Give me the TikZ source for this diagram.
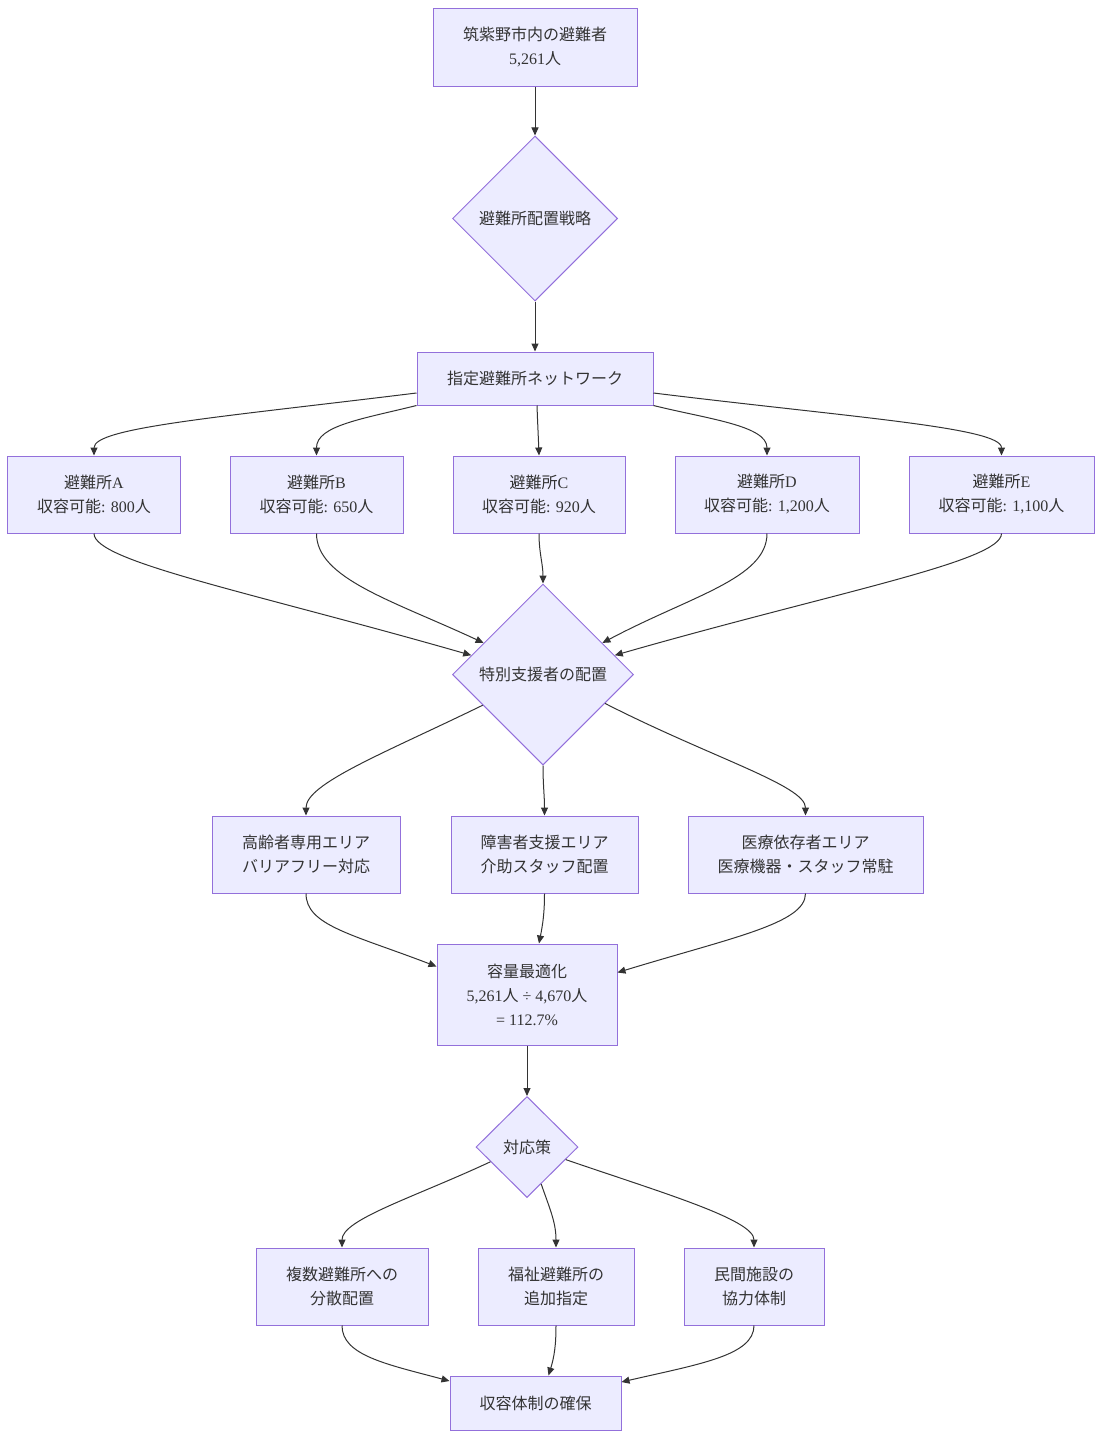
\documentclass[tikz,border=0pt]{standalone}
\usepackage{fontspec}
\setmainfont{Liberation Serif}
\newfontfamily\cjk{Noto Sans CJK JP}
\usetikzlibrary{shapes.geometric,arrows.meta}
\newcommand\J[1]{{\cjk #1}}
\definecolor{mmfill}{HTML}{ECECFF}
\definecolor{mmstroke}{HTML}{9370DB}
\definecolor{mmedge}{HTML}{333333}
\definecolor{mmtext}{HTML}{333333}
\begin{document}
\begin{tikzpicture}[x=1pt,y=1pt,
  box/.style={draw=mmstroke, fill=mmfill, line width=1pt, inner sep=0pt, align=center,
    text=mmtext, font=\fontsize{16}{24}\selectfont},
  dia/.style={box, diamond, aspect=1},
  edge/.style={draw=mmedge, line width=1pt, -{Triangle[length=8pt,width=7pt]}}]
\useasboundingbox (0,0) rectangle (1102,-1438);
% nodes
\node[box,minimum width=204,minimum height=78] (n1) at (535,-47) {\J{筑紫野市内の避難者}\\5,261\J{人}};
\node[dia,minimum width=165,minimum height=165] (d1) at (535,-218.5) {\J{避難所配置戦略}};
\node[box,minimum width=236,minimum height=53] (net) at (535,-378.5) {\J{指定避難所ネットワーク}};
\node[box,minimum width=173,minimum height=77] (sA) at (94,-494.5) {\J{避難所}A\\\J{収容可能}: 800\J{人}};
\node[box,minimum width=173,minimum height=77] (sB) at (316.5,-494.5) {\J{避難所}B\\\J{収容可能}: 650\J{人}};
\node[box,minimum width=172,minimum height=77] (sC) at (539,-494.5) {\J{避難所}C\\\J{収容可能}: 920\J{人}};
\node[box,minimum width=184,minimum height=77] (sD) at (767,-494.5) {\J{避難所}D\\\J{収容可能}: 1,200\J{人}};
\node[box,minimum width=185,minimum height=77] (sE) at (1001.5,-494.5) {\J{避難所}E\\\J{収容可能}: 1,100\J{人}};
\node[dia,minimum width=181,minimum height=181] (d2) at (543,-674.5) {\J{特別支援者の配置}};
\node[box,minimum width=188,minimum height=77] (r1) at (306,-854.5) {\J{高齢者専用エリア}\\\J{バリアフリー対応}};
\node[box,minimum width=187,minimum height=77] (r2) at (544.5,-854.5) {\J{障害者支援エリア}\\\J{介助スタッフ配置}};
\node[box,minimum width=235,minimum height=77] (r3) at (805.5,-854.5) {\J{医療依存者エリア}\\\J{医療機器・スタッフ常駐}};
\node[box,minimum width=180,minimum height=101] (cap) at (527,-994.5) {\J{容量最適化}\\5,261\J{人} ÷ 4,670\J{人}\\= 112.7\%};
\node[dia,minimum width=102,minimum height=101] (d3) at (527,-1147) {\J{対応策}};
\node[box,minimum width=172,minimum height=77] (q1) at (342,-1286.5) {\J{複数避難所への}\\\J{分散配置}};
\node[box,minimum width=156,minimum height=77] (q2) at (556,-1286.5) {\J{福祉避難所の}\\\J{追加指定}};
\node[box,minimum width=140,minimum height=77] (q3) at (754,-1286.5) {\J{民間施設の}\\\J{協力体制}};
\node[box,minimum width=171,minimum height=54] (fin) at (535.5,-1403) {\J{収容体制の確保}};
% edges
\draw[edge] (n1) -- (d1);
\draw[edge] (d1) -- (net);
\draw[edge] (net) to[out=187,in=90,out distance=200,in distance=28] (sA.north);
\draw[edge] (net.south west) to[out=194,in=90,out distance=55,in distance=30] (sB.north);
\draw[edge] ([xshift=2pt]net.south) to[out=-88,in=92] (sC.north);
\draw[edge] (net.south east) to[out=-14,in=90,out distance=55,in distance=30] (sD.north);
\draw[edge] (net) to[out=-7,in=90,out distance=200,in distance=28] (sE.north);
\draw[edge] (sA.south) to[out=-90,in=164,out distance=28,in distance=230] (d2.165);
\draw[edge] (sB.south) to[out=-90,in=155,out distance=45,in distance=100] (d2.152);
\draw[edge] (sC.south) to[out=-90,in=90] (d2.north);
\draw[edge] (sD.south) to[out=-90,in=28,out distance=45,in distance=100] (d2.28);
\draw[edge] (sE.south) to[out=-90,in=16,out distance=28,in distance=230] (d2.15);
\draw[edge] (d2.207) to[out=206,in=90,out distance=110,in distance=32] (r1.north);
\draw[edge] (d2.south) to[out=-90,in=90] (r2.north);
\draw[edge] (d2.-25) to[out=-27,in=90,out distance=120,in distance=30] (r3.north);
\draw[edge] (r1.south) to[out=-90,in=159,out distance=32,in distance=90] ([yshift=28pt]cap.west);
\draw[edge] (r2.south) to[out=-90,in=79] ([xshift=12pt]cap.north);
\draw[edge] (r3.south) to[out=-90,in=17,out distance=30,in distance=120] ([yshift=22pt]cap.east);
\draw[edge] (cap) -- (d3);
\draw[edge] (d3.202) to[out=205,in=90,out distance=85,in distance=28] (q1.north);
\draw[edge] (d3.-69) to[out=-71,in=90] (q2.north);
\draw[edge] (d3.-18) to[out=-19,in=90,out distance=100,in distance=28] (q3.north);
\draw[edge] (q1.south) to[out=-90,in=165,out distance=30,in distance=65] ([yshift=22pt]fin.west);
\draw[edge] (q2.south) to[out=-90,in=73] ([xshift=13pt]fin.north);
\draw[edge] (q3.south) to[out=-90,in=13,out distance=30,in distance=80] ([yshift=21pt]fin.east);
\end{tikzpicture}
\end{document}
